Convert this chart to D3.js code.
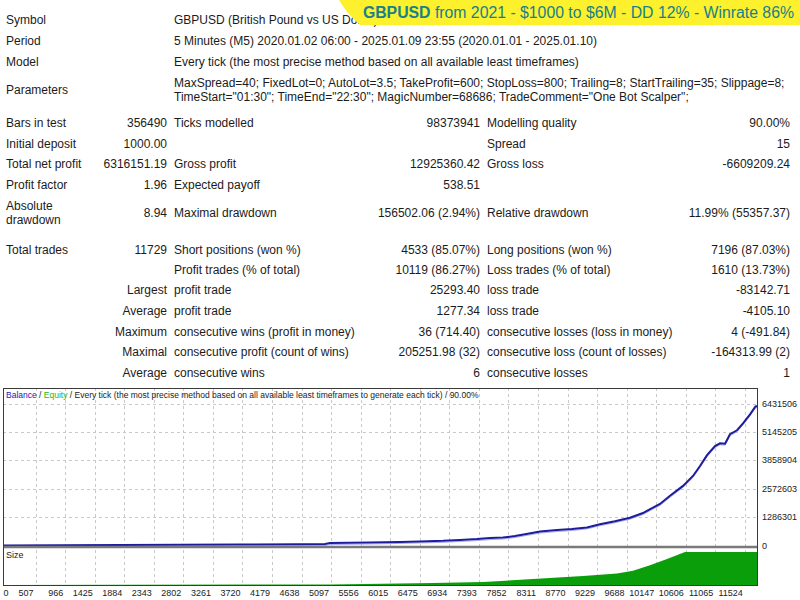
<!DOCTYPE html>
<html>
<head>
<meta charset="utf-8">
<script src="https://cdn.jsdelivr.net/npm/d3@7"></script>
<style>
	body { margin: 0; background: #fff; }
	svg { display: block; font-family: "Liberation Sans", Arial, sans-serif; }
</style>
</head>
<body>
<div class="backtest-report"></div>
<script>
// ---- report text ----
var header_rows = [
	["Symbol", "GBPUSD (British Pound vs US Dollar)"],
	["Period", "5 Minutes (M5) 2020.01.02 06:00 - 2025.01.09 23:55 (2020.01.01 - 2025.01.10)"],
	["Model", "Every tick (the most precise method based on all available least timeframes)"],
	["Parameters", "MaxSpread=40; FixedLot=0; AutoLot=3.5; TakeProfit=600; StopLoss=800; Trailing=8; StartTrailing=35; Slippage=8;\nTimeStart=\"01:30\"; TimeEnd=\"22:30\"; MagicNumber=68686; TradeComment=\"One Bot Scalper\";"]
];

var stat_rows = [
	["Bars in test", "356490", "Ticks modelled", "98373941", "Modelling quality", "90.00%"],
	["Initial deposit", "1000.00", "", "", "Spread", "15"],
	["Total net profit", "6316151.19", "Gross profit", "12925360.42", "Gross loss", "-6609209.24"],
	["Profit factor", "1.96", "Expected payoff", "538.51", "", ""],
	["Absolute\ndrawdown", "8.94", "Maximal drawdown", "156502.06 (2.94%)", "Relative drawdown", "11.99% (55357.37)"],
	["Total trades", "11729", "Short positions (won %)", "4533 (85.07%)", "Long positions (won %)", "7196 (87.03%)"],
	["", "", "Profit trades (% of total)", "10119 (86.27%)", "Loss trades (% of total)", "1610 (13.73%)"],
	["", "Largest", "profit trade", "25293.40", "loss trade", "-83142.71"],
	["", "Average", "profit trade", "1277.34", "loss trade", "-4105.10"],
	["", "Maximum", "consecutive wins (profit in money)", "36 (714.40)", "consecutive losses (loss in money)", "4 (-491.84)"],
	["", "Maximal", "consecutive profit (count of wins)", "205251.98 (32)", "consecutive loss (count of losses)", "-164313.99 (2)"],
	["", "Average", "consecutive wins", "6", "consecutive losses", "1"]
];

var banner_bold = "GBPUSD";
var banner_rest = " from 2021 - $1000 to $6M - DD 12% - Winrate 86%";

var chart_title = ["Balance", " / ", "Equity", " / Every tick (the most precise method based on all available least timeframes to generate each tick) / 90.00%"];

// ---- balance curve (trade number -> balance) ----
var balance_trades = [0, 886, 1818, 2750, 3682, 4614, 5002, 5080, 5701, 6167, 6478, 6835, 7099, 7364, 7566, 7767, 7954, 8109, 8343, 8607, 8839, 9072, 9274, 9507, 9740, 9942, 10098, 10206, 10362, 10564, 10719, 10828, 10937, 11061, 11139, 11217, 11294, 11403, 11496, 11605, 11690, 11729];
var balance_values = [1000, 12000, 22000, 31000, 42000, 55000, 65000, 110000, 135000, 160000, 185000, 210000, 250000, 290000, 335000, 360000, 430000, 510000, 630000, 700000, 745000, 820000, 965000, 1100000, 1260000, 1470000, 1720000, 1880000, 2250000, 2700000, 3150000, 3600000, 4090000, 4500000, 4630000, 4610000, 5040000, 5220000, 5530000, 5940000, 6300000, 6317151];

// ---- lot size panel ----
var size_trades = [0, 5080, 6680, 7457, 8233, 9011, 9538, 9787, 10051, 10315, 10595, 11729];
var size_lots = [0.3, 1.5, 6, 9, 18, 27, 35, 43, 60, 79, 100, 100];

// ---- axes ----
var x_tick_values = [0, 507, 966, 1425, 1884, 2343, 2802, 3261, 3720, 4179, 4638, 5097, 5556, 6015, 6475, 6934, 7393, 7852, 8311, 8770, 9229, 9688, 10147, 10606, 11065, 11524];
var y_tick_values = [0, 1286301, 2572603, 3858904, 5145205, 6431506];
var total_trades = 11729;
var max_lot = 100;


var BacktestReport = function(config){
	this.container_selector = config.container_selector || "div.backtest-report";
	this.width = 800;
	this.height = 600;
	this.init();
}

BacktestReport.prototype.init = function(){
	var self = this;
	self.svg = d3.select(self.container_selector)
		.append("svg")
		.attr("width", self.width)
		.attr("height", self.height);

	// column layout of the stats table
	self.col_label_1 = 6;
	self.col_value_1 = 167;
	self.col_label_2 = 174;
	self.col_value_2 = 480;
	self.col_label_3 = 487;
	self.col_value_3 = 790;
	self.text_color = "#1b1b1b";
	self.font_size = 12;

	// chart frame
	self.frame = {left: 3, right: 758, top: 388, split: 547, bottom: 585};
}

BacktestReport.prototype.renderTable = function(){
	var self = this;
	var header_y = [20, 41, 62, 90];
	var stat_y = [123, 144, 164, 185, 213, 250, 270, 290, 311, 332, 352, 373];
	var line_gap = 14;
	var mid = self.font_size * 0.36;

	var table = self.svg.append("g")
		.classed("table", true)
		.style("font-size", self.font_size + "px")
		.style("fill", self.text_color);

	function addText(str, x, y, anchor){
		if(!str) return;
		var lines = str.split("\n");
		var t = table.append("text")
			.attr("x", x)
			.attr("y", y)
			.style("text-anchor", anchor);
		lines.forEach(function(line, i){
			t.append("tspan")
				.attr("x", x)
				.attr("dy", i == 0 ? (mid - (lines.length - 1) * line_gap / 2) : line_gap)
				.text(line);
		});
	}

	header_rows.forEach(function(row, i){
		addText(row[0], self.col_label_1, header_y[i], "start");
		addText(row[1], self.col_label_2, header_y[i], "start");
	});

	var cols = [
		[self.col_label_1, "start"], [self.col_value_1, "end"],
		[self.col_label_2, "start"], [self.col_value_2, "end"],
		[self.col_label_3, "start"], [self.col_value_3, "end"]
	];
	stat_rows.forEach(function(row, i){
		row.forEach(function(cell, j){
			addText(cell, cols[j][0], stat_y[i], cols[j][1]);
		});
	});
}

BacktestReport.prototype.renderBanner = function(){
	var self = this;
	var banner = self.svg.append("g").classed("banner", true);
	banner.append("path")
		.attr("d", "M339,0 L800,0 L800,25 L360,25 Q347,14 339,0 Z")
		.attr("fill", "#fdf02c");
	var t = banner.append("text")
		.attr("x", 794)
		.attr("y", 18)
		.style("text-anchor", "end")
		.style("font-size", "15.8px")
		.style("fill", "#17808a");
	t.append("tspan")
		.style("font-weight", "bold")
		.text(banner_bold);
	t.append("tspan")
		.text(banner_rest);
}

BacktestReport.prototype.renderChart = function(){
	var self = this;
	var f = self.frame;

	self.xScale = d3.scaleLinear().domain([0, total_trades]).range([f.left, f.right]);
	self.yScale = d3.scaleLinear().domain([0, y_tick_values[y_tick_values.length - 1]]).range([545.5, 403.5]);
	self.lotScale = d3.scaleLinear().domain([0, max_lot]).range([f.bottom, f.split + 5]);

	var chart = self.svg.append("g").classed("chart", true);

	chart.append("clipPath")
		.attr("id", "plot-clip")
		.append("rect")
		.attr("x", f.left)
		.attr("y", f.top)
		.attr("width", f.right - f.left)
		.attr("height", f.bottom - f.top);

	// grid
	var grid = chart.append("g")
		.classed("grid", true)
		.attr("clip-path", "url(#plot-clip)")
		.style("stroke", "#c9c9c9")
		.style("stroke-dasharray", "3,3");
	grid.selectAll("line.vgrid")
		.data(x_tick_values.slice(1))
		.enter()
		.append("line")
		.classed("vgrid", true)
		.attr("x1", function(d){ return Math.round(self.xScale(d)) + 0.5; })
		.attr("x2", function(d){ return Math.round(self.xScale(d)) + 0.5; })
		.attr("y1", f.top)
		.attr("y2", f.bottom);
	grid.selectAll("line.hgrid")
		.data(y_tick_values.slice(1))
		.enter()
		.append("line")
		.classed("hgrid", true)
		.attr("x1", f.left)
		.attr("x2", f.right)
		.attr("y1", function(d){ return Math.round(self.yScale(d)) + 0.5; })
		.attr("y2", function(d){ return Math.round(self.yScale(d)) + 0.5; });

	// size panel
	var sizes = size_trades.map(function(d, i){ return {t: d, v: size_lots[i]}; });
	var area = d3.area()
		.x(function(d){ return self.xScale(d.t); })
		.y0(f.bottom)
		.y1(function(d){ return self.lotScale(d.v); });
	chart.append("path")
		.datum(sizes)
		.attr("clip-path", "url(#plot-clip)")
		.attr("d", area)
		.attr("fill", "#0a9f0a");

	// balance line
	var balance = balance_trades.map(function(d, i){ return {t: d, v: balance_values[i]}; });
	var line = d3.line()
		.x(function(d){ return self.xScale(d.t); })
		.y(function(d){ return self.yScale(d.v); });
	chart.append("path")
		.datum(balance)
		.attr("clip-path", "url(#plot-clip)")
		.attr("d", line)
		.attr("fill", "none")
		.attr("stroke", "#a9a9f0")
		.attr("stroke-width", 1)
		.attr("transform", "translate(0,1.5)");
	chart.append("path")
		.datum(balance)
		.attr("clip-path", "url(#plot-clip)")
		.attr("d", line)
		.attr("fill", "none")
		.attr("stroke", "#1d1d9c")
		.attr("stroke-width", 2);

	// separator + frame
	chart.append("line")
		.attr("x1", f.left)
		.attr("x2", f.right)
		.attr("y1", f.split)
		.attr("y2", f.split)
		.attr("stroke", "#7a7a7a")
		.attr("stroke-width", 2.5);
	chart.append("rect")
		.attr("x", f.left + 0.5)
		.attr("y", f.top + 0.5)
		.attr("width", f.right - f.left - 1)
		.attr("height", f.bottom - f.top)
		.attr("fill", "none")
		.attr("stroke", "#3a3a3a")
		.attr("stroke-width", 1);

	// title + size label
	var title = chart.append("text")
		.attr("x", f.left + 3)
		.attr("y", f.top + 10)
		.style("font-size", "8.5px")
		.style("fill", "#222");
	var title_colors = ["#2020c0", "#222", "#18b818", "#222"];
	chart_title.forEach(function(s, i){
		title.append("tspan").style("fill", title_colors[i]).text(s);
	});
	chart.append("text")
		.attr("x", f.left + 3)
		.attr("y", f.split + 11)
		.style("font-size", "9px")
		.style("fill", "#222")
		.text("Size");

	// axis labels
	chart.append("g")
		.classed("y axis", true)
		.selectAll("text")
		.data(y_tick_values)
		.enter()
		.append("text")
		.attr("x", f.right + 4)
		.attr("y", function(d){ return self.yScale(d); })
		.attr("dy", "0.35em")
		.style("font-size", "9px")
		.style("fill", "#222")
		.text(function(d){ return d; });

	chart.append("g")
		.classed("x axis", true)
		.selectAll("text")
		.data(x_tick_values)
		.enter()
		.append("text")
		.attr("x", function(d, i){ return i == 0 ? f.left + 0.5 : self.xScale(d) - 2; })
		.attr("y", 593)
		.attr("dy", "0.35em")
		.style("text-anchor", function(d, i){ return i == 0 ? "start" : "end"; })
		.style("font-size", "9px")
		.style("fill", "#222")
		.text(function(d){ return d; });
}

var report = new BacktestReport({container_selector: "div.backtest-report"});
report.renderTable();
report.renderBanner();
report.renderChart();
</script>
</body>
</html>
